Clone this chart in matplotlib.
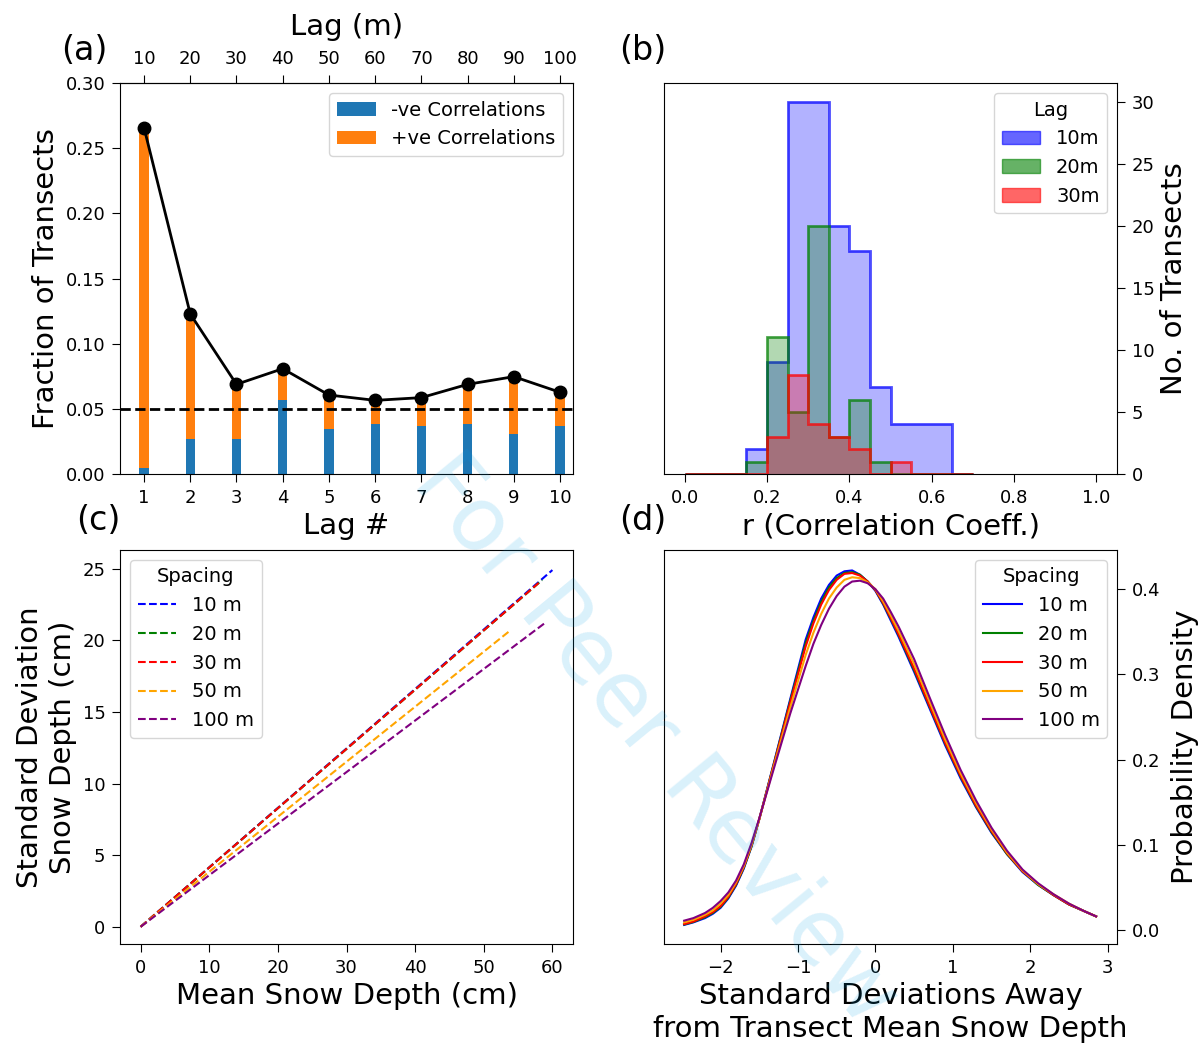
import matplotlib
matplotlib.use("Agg")
import matplotlib.pyplot as plt
import numpy as np
from matplotlib.patches import Patch

plt.rcParams["font.family"] = "DejaVu Sans"
plt.rcParams["xtick.major.size"] = 5.5
plt.rcParams["ytick.major.size"] = 5.5
plt.rcParams["xtick.major.pad"] = 5
plt.rcParams["ytick.major.pad"] = 5

# (a) fraction of transects with significant autocorrelation per lag
lag_num = [1, 2, 3, 4, 5, 6, 7, 8, 9, 10]
lag_m = [10, 20, 30, 40, 50, 60, 70, 80, 90, 100]
neg_frac = [0.0044, 0.0266, 0.0266, 0.0568, 0.0345, 0.0386, 0.0366, 0.0386, 0.0304, 0.0366]
pos_frac = [0.2613, 0.0962, 0.0422, 0.0240, 0.0261, 0.0179, 0.0220, 0.0302, 0.0443, 0.0261]

# (b) histogram of correlation coefficients
r_edges = [0.0, 0.05, 0.10, 0.15, 0.20, 0.25, 0.30, 0.35, 0.40, 0.45, 0.50, 0.55, 0.60, 0.65, 0.70]
counts_10m = [0, 0, 0, 2, 9, 30, 30, 20, 18, 7, 4, 4, 4, 0]
counts_20m = [0, 0, 0, 1, 11, 5, 20, 3, 6, 1, 0, 0, 0, 0]
counts_30m = [0, 0, 0, 0, 3, 8, 4, 3, 2, 0, 1, 0, 0, 0]

# (c) std vs mean snow depth (fit lines, start and end)
spacing_labels = ["10 m", "20 m", "30 m", "50 m", "100 m"]
spacing_colors = ["blue", "green", "red", "orange", "purple"]
mean_depth = [[0, 60.0], [0, 58.5], [0, 58.0], [0, 53.9], [0, 58.9]]
std_depth = [[0, 24.9], [0, 24.2], [0, 24.0], [0, 20.7], [0, 21.2]]

# (d) density of standardised snow depth
z = [-2.47, -2.35, -2.2, -2.1, -2.0, -1.9, -1.8, -1.7, -1.6, -1.5, -1.3, -1.1, -0.9, -0.8, -0.7,
     -0.6, -0.5, -0.4, -0.3, -0.2, -0.1, 0.0, 0.1, 0.2, 0.3, 0.5, 0.7, 0.9, 1.1, 1.3, 1.5,
     1.7, 1.9, 2.1, 2.3, 2.5, 2.7, 2.85]
pdf_10m = [0.006, 0.009, 0.014, 0.019, 0.026, 0.037, 0.052, 0.072, 0.098, 0.130, 0.200, 0.271, 0.341, 0.367, 0.389,
           0.405, 0.416, 0.421, 0.422, 0.417, 0.409, 0.398, 0.382, 0.363, 0.344, 0.303, 0.260, 0.217, 0.178, 0.144, 0.114,
           0.089, 0.068, 0.053, 0.041, 0.030, 0.022, 0.016]
pdf_20m = [0.0065, 0.0095, 0.015, 0.020, 0.027, 0.038, 0.053, 0.073, 0.098, 0.130, 0.199, 0.269, 0.337, 0.363, 0.385,
           0.402, 0.413, 0.419, 0.420, 0.417, 0.409, 0.399, 0.383, 0.365, 0.346, 0.305, 0.262, 0.219, 0.180, 0.145, 0.115,
           0.089, 0.069, 0.053, 0.041, 0.030, 0.022, 0.016]
pdf_30m = [0.007, 0.010, 0.016, 0.021, 0.028, 0.039, 0.054, 0.074, 0.099, 0.130, 0.198, 0.267, 0.333, 0.360, 0.382,
           0.399, 0.411, 0.418, 0.419, 0.416, 0.409, 0.399, 0.384, 0.366, 0.347, 0.307, 0.263, 0.220, 0.181, 0.146, 0.116,
           0.090, 0.069, 0.054, 0.041, 0.030, 0.022, 0.016]
pdf_50m = [0.009, 0.012, 0.018, 0.023, 0.031, 0.041, 0.056, 0.075, 0.100, 0.130, 0.196, 0.261, 0.323, 0.349, 0.371,
           0.389, 0.402, 0.411, 0.414, 0.413, 0.408, 0.400, 0.386, 0.369, 0.351, 0.312, 0.268, 0.224, 0.184, 0.149, 0.118,
           0.091, 0.070, 0.054, 0.042, 0.031, 0.022, 0.016]
pdf_100m = [0.011, 0.014, 0.020, 0.026, 0.034, 0.044, 0.058, 0.077, 0.102, 0.131, 0.193, 0.254, 0.310, 0.336, 0.358,
            0.377, 0.392, 0.403, 0.409, 0.410, 0.407, 0.400, 0.389, 0.373, 0.356, 0.318, 0.273, 0.229, 0.188, 0.152, 0.120,
            0.093, 0.071, 0.055, 0.042, 0.031, 0.022, 0.016]

W, H = 1199, 1045
fig = plt.figure(figsize=(W / 100, H / 100), dpi=100)

def box(l, t, r, b):
    return [l / W, 1 - b / H, (r - l) / W, (b - t) / H]

tick_fs = 13
lab_fs = 21
leg_fs = 14
letter_fs = 24

# ---- (a)
ax1 = fig.add_axes(box(120, 83, 573, 474))
ax1.bar(lag_num, neg_frac, width=0.2, color="tab:blue", label="-ve Correlations")
ax1.bar(lag_num, pos_frac, width=0.2, bottom=neg_frac, color="tab:orange", label="+ve Correlations")
total = np.array(neg_frac) + np.array(pos_frac)
ax1.plot(lag_num, total, "ko-", lw=2, ms=9)
ax1.axhline(0.05, color="k", ls="--", lw=2)
ax1.set_xlim(0.48, 10.28)
ax1.set_ylim(0, 0.30)
ax1.set_xticks(lag_num)
ax1.set_yticks(np.arange(0, 0.31, 0.05))
ax1.yaxis.set_major_formatter(matplotlib.ticker.FormatStrFormatter("%.2f"))
ax1.tick_params(labelsize=tick_fs)
ax1.set_xlabel("Lag #", fontsize=lab_fs)
ax1.set_ylabel("Fraction of Transects", fontsize=lab_fs)
top = ax1.secondary_xaxis("top", functions=(lambda x: x * 10, lambda x: x / 10))
top.set_xticks(lag_m)
top.tick_params(labelsize=tick_fs)
top.set_xlabel("Lag (m)", fontsize=lab_fs, labelpad=11)
ax1.legend(loc="upper right", fontsize=leg_fs)

# ---- (b)
ax2 = fig.add_axes(box(664, 83, 1117, 474))
for cnt, col in [(counts_10m, "blue"), (counts_20m, "green"), (counts_30m, "red")]:
    ax2.stairs(cnt, r_edges, fill=True, color=col, alpha=0.3)
    ax2.stairs(cnt, r_edges, color=col, alpha=0.7, lw=2)
ax2.set_xlim(-0.05, 1.05)
ax2.set_ylim(0, 31.5)
ax2.set_xticks(np.arange(0, 1.01, 0.2))
ax2.yaxis.tick_right()
ax2.yaxis.set_label_position("right")
ax2.tick_params(labelsize=tick_fs)
ax2.set_xlabel("r (Correlation Coeff.)", fontsize=lab_fs)
ax2.set_ylabel("No. of Transects", fontsize=lab_fs)
handles = [Patch(color=c, alpha=0.6) for c in ["blue", "green", "red"]]
ax2.legend(handles, ["10m", "20m", "30m"], title="Lag", loc="upper right",
           fontsize=leg_fs, title_fontsize=leg_fs)

# ---- (c)
ax3 = fig.add_axes(box(120, 550, 573, 944))
for xs, ys, lab, col in zip(mean_depth, std_depth, spacing_labels, spacing_colors):
    ax3.plot(xs, ys, ls="--", color=col, lw=1.5, label=lab)
ax3.set_xlim(-3, 63)
ax3.set_ylim(-1.2, 26.3)
ax3.set_xticks(np.arange(0, 61, 10))
ax3.set_yticks(np.arange(0, 26, 5))
ax3.tick_params(labelsize=tick_fs)
ax3.set_xlabel("Mean Snow Depth (cm)", fontsize=lab_fs)
ax3.set_ylabel("Standard Deviation\nSnow Depth (cm)", fontsize=lab_fs)
ax3.legend(title="Spacing", loc="upper left", fontsize=leg_fs, title_fontsize=leg_fs)

# ---- (d)
ax4 = fig.add_axes(box(664, 550, 1117, 944))
for pdf, lab, col in zip([pdf_10m, pdf_20m, pdf_30m, pdf_50m, pdf_100m], spacing_labels, spacing_colors):
    ax4.plot(z, pdf, color=col, lw=1.5, label=lab, solid_joinstyle="round")
ax4.set_xlim(-2.73, 3.12)
ax4.set_ylim(-0.0164, 0.446)
ax4.set_xticks(np.arange(-2, 4, 1))
ax4.set_yticks(np.arange(0, 0.41, 0.1))
ax4.yaxis.tick_right()
ax4.yaxis.set_label_position("right")
ax4.tick_params(labelsize=tick_fs)
ax4.set_xlabel("Standard Deviations Away\nfrom Transect Mean Snow Depth", fontsize=lab_fs)
ax4.set_ylabel("Probability Density", fontsize=lab_fs, labelpad=8)
ax4.legend(title="Spacing", loc="upper right", fontsize=leg_fs, title_fontsize=leg_fs)

# panel letters
fig.text(84 / W, 1 - 50 / H, "(a)", fontsize=letter_fs, ha="center", va="center")
fig.text(643 / W, 1 - 50 / H, "(b)", fontsize=letter_fs, ha="center", va="center")
fig.text(98 / W, 1 - 521 / H, "(c)", fontsize=letter_fs, ha="center", va="center")
fig.text(643 / W, 1 - 521 / H, "(d)", fontsize=letter_fs, ha="center", va="center")

# watermark
fig.text(655 / W, 1 - 740 / H, "For Peer Review", fontsize=64, rotation=-50.5,
         ha="center", va="center", color="#00a0e6", alpha=0.15, zorder=10)

fig.savefig("out.png", dpi=100)
